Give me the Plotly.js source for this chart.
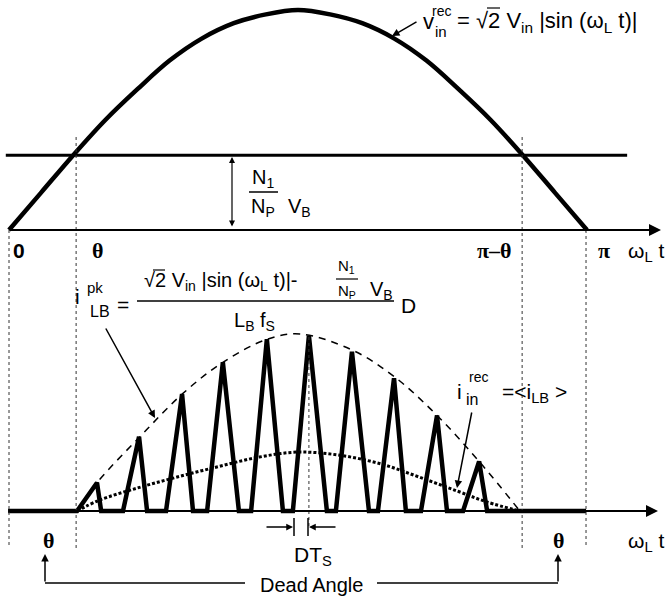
<!DOCTYPE html>
<html>
<head>
<meta charset="utf-8">
<script src="https://cdn.plot.ly/plotly-3.0.1.min.js"></script>
<style>html,body{margin:0;padding:0;background:#fff}</style>
</head>
<body>
<div id="myDiv" style="width:671px;height:606px"></div>
<script>
// Angulo wL*t en grados (180 = pi)
const angleDeg = [0, 10, 20, 30, 40, 50, 60, 70, 80, 90, 100, 110, 120, 130, 140, 150, 160, 170, 180];
// Tension de entrada rectificada, normalizada a su pico
const vinRec = [0, 0.17, 0.34, 0.5, 0.64, 0.77, 0.87, 0.94, 0.98, 1, 0.98, 0.94, 0.87, 0.77, 0.64, 0.5, 0.34, 0.17, 0];
// Nivel N1/NP * VB
const vbAngle = [-1, 192.5];
const vbLevel = [0.34, 0.34];
// Guias punteadas en 0, theta, pi-theta, pi
const guideAngle = [0, 20.9, 159.8, 179.7];

// Corriente del inductor: inicio, pico y fin de cada pulso (grados)
const swStart = [21.2, 35.5, 48.9, 61.7, 75.4, 88.4, 101.8, 114.9, 128.3, 141.4];
const swPeak = [27.4, 40.5, 53.9, 66.6, 80.3, 93.4, 106.8, 119.9, 133.3, 146.4];
const swEnd = [28.7, 43.0, 57.3, 71.6, 85.3, 99.0, 112.1, 123.6, 136.4, 148.9];
const iPeak = [0.16, 0.42, 0.66, 0.84, 0.97, 0.99, 0.9, 0.75, 0.54, 0.28];
// Envolvente de picos (linea de trazos)
const envAngle = [21.2, 27.4, 40.8, 53.9, 66.6, 80.3, 90.6, 106.8, 119.9, 133.3, 146.4, 159.1];
const envValue = [0, 0.16, 0.42, 0.66, 0.84, 0.97, 1.0, 0.91, 0.76, 0.54, 0.28, 0];
// Corriente media de entrada (linea de puntos)
const avgAngle = [21.2, 28, 40, 52, 65, 78, 90, 103, 116, 128, 140, 149, 159.1];
const avgValue = [0, 0.06, 0.13, 0.19, 0.25, 0.305, 0.333, 0.315, 0.265, 0.19, 0.11, 0.05, 0];

const W = 671, H = 606;
const FONT = 'Liberation Sans, Arial, sans-serif';
const SERIF = 'Liberation Serif, Times New Roman, serif';

// Texto en coordenadas de pixel de la figura
function txt(x, y, text, size, extra) {
  return Object.assign({
    xref: 'paper', yref: 'paper', x: x / W, y: 1 - y / H,
    text: text, showarrow: false, xanchor: 'center', yanchor: 'middle',
    font: { family: FONT, size: size, color: '#000' }
  }, extra || {});
}
function greek(x, y, text) {
  return txt(x, y, '<b>' + text + '</b>', 22, { font: { family: SERIF, size: 22, color: '#000' } });
}
// Flecha con punta en (x, y) y cola en (tx, ty)
function arrow(x, y, tx, ty, extra) {
  return Object.assign({
    xref: 'paper', yref: 'paper', x: x / W, y: 1 - y / H,
    ax: tx - x, ay: ty - y, text: '', showarrow: true,
    arrowhead: 2, arrowsize: 1, arrowwidth: 1.5, arrowcolor: '#000',
    standoff: 0, startstandoff: 0, font: { family: FONT, size: 10 }
  }, extra || {});
}
function seg(x0, y0, x1, y1, width, dash) {
  return {
    type: 'line', xref: 'paper', yref: 'paper',
    x0: x0 / W, y0: 1 - y0 / H, x1: x1 / W, y1: 1 - y1 / H,
    line: { color: '#000', width: width || 1.5, dash: dash || 'solid' }
  };
}

// Forma de onda triangular de la corriente
let iX = [-0.3], iY = [0];
for (let k = 0; k < swPeak.length; k++) {
  iX.push(swStart[k], swPeak[k], swEnd[k]);
  iY.push(0, iPeak[k], 0);
}
iX.push(179.7);
iY.push(0);

var data = [
  { x: angleDeg, y: vinRec, mode: 'lines', type: 'scatter', yaxis: 'y',
    line: { color: '#000', width: 4.5, shape: 'spline' } },
  { x: vbAngle, y: vbLevel, mode: 'lines', type: 'scatter', yaxis: 'y',
    line: { color: '#000', width: 3 } },
  { x: envAngle, y: envValue, mode: 'lines', type: 'scatter', yaxis: 'y2',
    line: { color: '#000', width: 1.5, dash: '7px,6px', shape: 'spline' } },
  { x: avgAngle, y: avgValue, mode: 'lines', type: 'scatter', yaxis: 'y2',
    line: { color: '#000', width: 3, dash: '3px,2px', shape: 'spline' } },
  { x: iX, y: iY, mode: 'lines', type: 'scatter', yaxis: 'y2',
    line: { color: '#000', width: 4.5 } }
];

// Guias verticales punteadas
var shapes = guideAngle.map(function (a, k) {
  return {
    type: 'line', xref: 'x', yref: 'paper', x0: a, x1: a,
    y0: 1 - (k === 1 || k === 2 ? 137 : 230) / H, y1: 1 - 548 / H,
    line: { color: '#333', width: 1, dash: 'dot' }
  };
});
shapes.push(
  // linea central punteada y marcas de DTs
  { type: 'line', xref: 'x', yref: 'paper', x0: swPeak[5], x1: swPeak[5],
    y0: 1 - 337 / H, y1: 1 - 526 / H, line: { color: '#333', width: 1, dash: 'dot' } },
  seg(294, 518, 294, 536, 1.5),
  seg(308, 518, 308, 536, 1.5),
  // barras de fraccion
  seg(249, 192, 278, 192, 1.5),
  seg(137, 301, 394, 301, 1.5),
  seg(336, 279, 358, 279, 1.2),
  // raices
  seg(487, 8, 500, 8, 1.2),
  seg(153, 270, 165, 270, 1.2),
  // angulo muerto
  seg(45, 583, 245, 583, 1.5),
  seg(377, 583, 558, 583, 1.5)
);

var annotations = [
  // ejes con flecha
  arrow(661, 230, 8, 230, { arrowwidth: 2, arrowsize: 1.2 }),
  arrow(658, 511, 8, 511, { arrowwidth: 2, arrowsize: 1.2 }),
  // formula superior
  arrow(392, 36, 418, 21, { arrowwidth: 1.5 }),
  txt(428, 22, 'v', 22),
  txt(441, 11, 'rec', 14),
  txt(441, 31, 'in', 15),
  txt(455, 22, '= \u221A2 V<sub>in</sub> |sin (\u03C9<sub>L</sub> t)|', 22, { xanchor: 'left' }),
  // N1/NP VB
  arrow(232, 157, 232, 228, { arrowside: 'end+start', arrowwidth: 1.2, arrowsize: 1 }),
  txt(263, 178, 'N<sub>1</sub>', 20),
  txt(263, 207, 'N<sub>P</sub>', 20),
  txt(299, 207, 'V<sub>B</sub>', 20),
  // etiquetas del eje superior
  txt(19, 250, '<b>0</b>', 21),
  greek(97, 250, '\u03B8'),
  greek(494, 250, '\u03C0\u2013\u03B8'),
  greek(604, 250, '\u03C0'),
  txt(646, 252, '\u03C9<sub>L</sub> t', 21),
  // formula del pico de corriente
  txt(77, 296, 'i', 21),
  txt(95, 287, 'pk', 15),
  txt(100, 311, 'LB', 16),
  txt(123, 304, '=', 21),
  txt(142, 281, '\u221A2 V<sub>in</sub> |sin (\u03C9<sub>L</sub> t)|-', 20, { xanchor: 'left' }),
  txt(347, 267, 'N<sub>1</sub>', 15),
  txt(347, 291, 'N<sub>P</sub>', 15),
  txt(381, 290, 'V<sub>B</sub>', 20),
  txt(409, 305, 'D', 21),
  txt(254, 321, 'L<sub>B</sub> f<sub>S</sub>', 20),
  arrow(155, 418, 105, 327, { arrowwidth: 1.5 }),
  // corriente media de entrada
  txt(459, 391, 'i', 21),
  txt(479, 377, 'rec', 14),
  txt(472, 399, 'in', 16),
  txt(500, 393, '=<i<sub>LB</sub> >', 21, { xanchor: 'left' }),
  arrow(457, 488, 472, 411, { arrowwidth: 1.5 }),
  // DTs
  arrow(293, 527, 265, 527, { arrowwidth: 1.5, arrowsize: 0.9 }),
  arrow(309, 527, 337, 527, { arrowwidth: 1.5, arrowsize: 0.9 }),
  txt(313, 556, 'DT<sub>S</sub>', 21),
  // angulo muerto
  greek(48, 540, '\u03B8'),
  greek(558, 540, '\u03B8'),
  txt(646, 542, '\u03C9<sub>L</sub> t', 21),
  arrow(45, 554, 45, 583, { arrowwidth: 1.5 }),
  arrow(558, 554, 558, 583, { arrowwidth: 1.5 }),
  txt(311, 585, 'Dead Angle', 20)
];

var layout = {
  width: W, height: H,
  margin: { l: 0, r: 0, t: 0, b: 0 },
  paper_bgcolor: '#fff', plot_bgcolor: '#fff',
  showlegend: false,
  xaxis: { range: [-9 / 3.2111, 662 / 3.2111], visible: false },
  yaxis: { range: [(230 - 606) / 220, 230 / 220], visible: false },
  yaxis2: { range: [(511 - 606) / 177, 511 / 177], visible: false, overlaying: 'y' },
  shapes: shapes,
  annotations: annotations
};

Plotly.newPlot('myDiv', data, layout, { staticPlot: true });
</script>
</body>
</html>
